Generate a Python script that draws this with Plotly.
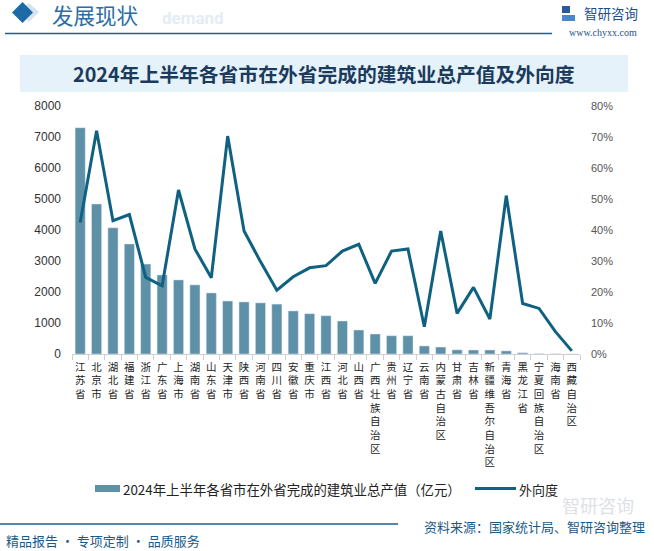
import plotly.graph_objects as go

categories = ["江苏省", "北京市", "湖北省", "福建省", "浙江省", "广东省", "上海市", "湖南省",
              "山东省", "天津市", "陕西省", "河南省", "四川省", "安徽省", "重庆市", "江西省",
              "河北省", "山西省", "广西壮族自治区", "贵州省", "辽宁省", "云南省", "内蒙古自治区",
              "甘肃省", "吉林省", "新疆维吾尔自治区", "青海省", "黑龙江省", "宁夏回族自治区",
              "海南省", "西藏自治区"]
output_value = [7300, 4840, 4070, 3550, 2900, 2550, 2390, 2230, 1970, 1710, 1680, 1650, 1610,
                1390, 1300, 1235, 1065, 775, 645, 590, 590, 260, 225, 135, 130, 130, 100, 40,
                12, 6, 2]
outward_ratio = [42.4, 72.0, 43.0, 45.0, 24.7, 22.0, 52.9, 33.9, 24.6, 70.3, 39.7, 29.8, 20.6,
                 24.9, 27.8, 28.5, 33.2, 35.4, 22.8, 33.2, 33.9, 8.8, 39.7, 13.1, 21.5, 11.3,
                 51.1, 16.3, 14.7, 7.2, 1.0]
left_ticks = [0, 1000, 2000, 3000, 4000, 5000, 6000, 7000, 8000]
right_ticks = [0, 0.1, 0.2, 0.3, 0.4, 0.5, 0.6, 0.7, 0.8]

W, H = 654, 551
L, R, T, B = 72, 74, 106, 197
PW, PH = W - L - R, H - T - B

def px(x):
    return (x - L) / PW

def py(y):
    return (H - B - y) / PH

FONT = "Noto Sans CJK SC"
BAR_C = "#5e90a8"
LINE_C = "#0f6182"
BLUE = "#1b5e93"

ticktext = ["<br>".join(list(c)) for c in categories]

fig = go.Figure()
fig.add_trace(go.Bar(x=categories, y=output_value, marker_color=BAR_C, name="2024年上半年各省市在外省完成的建筑业总产值（亿元）",
                     showlegend=False))
fig.add_trace(go.Scatter(x=categories, y=[v / 100 for v in outward_ratio], yaxis="y2", mode="lines",
                         line=dict(color=LINE_C, width=3), name="外向度", showlegend=False))

shapes = []
annos = []

# header
shapes.append(dict(type="path", xref="paper", yref="paper",
                   path=f"M {px(19)} {py(12)} L {px(29)} {py(3)} L {px(39)} {py(12)} L {px(29)} {py(22)} Z",
                   fillcolor="#d4e4f1", line=dict(width=0), layer="below"))
shapes.append(dict(type="path", xref="paper", yref="paper",
                   path=f"M {px(12)} {py(12.5)} L {px(22.5)} {py(2)} L {px(33)} {py(12.5)} L {px(22.5)} {py(23)} Z",
                   fillcolor="#1c6aa6", line=dict(width=0)))
annos.append(dict(text="<b>demand</b>", x=px(160), y=py(18), xref="paper", yref="paper", xanchor="left",
                  yanchor="middle", showarrow=False, font=dict(family="Roboto", size=17, color="#e4edf5")))
annos.append(dict(text="发展现状", x=px(50), y=py(14.5), xref="paper", yref="paper", xanchor="left",
                  yanchor="middle", showarrow=False, font=dict(family=FONT, size=21.5, color="#2b6ea6")))
shapes.append(dict(type="line", xref="paper", yref="paper", x0=px(5), x1=px(552), y0=py(33.5), y1=py(33.5),
                   line=dict(color=BLUE, width=1.5)))
# logo
shapes.append(dict(type="rect", xref="paper", yref="paper", x0=px(562), x1=px(570), y0=py(6), y1=py(13),
                   fillcolor="#2a5a9a", line=dict(width=0)))
shapes.append(dict(type="rect", xref="paper", yref="paper", x0=px(562), x1=px(575), y0=py(15), y1=py(21),
                   fillcolor="#4a86c8", line=dict(width=0)))
annos.append(dict(text="智研咨询", x=px(582), y=py(13.5), xref="paper", yref="paper", xanchor="left",
                  yanchor="middle", showarrow=False, font=dict(family=FONT, size=13.5, color="#1e4f8c")))
annos.append(dict(text="www.chyxx.com", x=px(639), y=py(33), xref="paper", yref="paper", xanchor="right",
                  yanchor="middle", showarrow=False, font=dict(family="Liberation Serif", size=10, color="#1e4f8c")))

# title box
shapes.append(dict(type="rect", xref="paper", yref="paper", x0=px(20), x1=px(628), y0=py(92), y1=py(55),
                   fillcolor="#e6f2fa", line=dict(width=0), layer="below"))
annos.append(dict(text="<b>2024年上半年各省市在外省完成的建筑业总产值及外向度</b>", x=px(324), y=py(74),
                  xref="paper", yref="paper", xanchor="center", yanchor="middle", showarrow=False,
                  font=dict(family=FONT, size=19.8, color="#1b3a5c")))

# legend (manual)
shapes.append(dict(type="rect", xref="paper", yref="paper", x0=px(95), x1=px(120), y0=py(492), y1=py(485),
                   fillcolor=BAR_C, line=dict(width=0)))
annos.append(dict(text="2024年上半年各省市在外省完成的建筑业总产值（亿元）", x=px(121), y=py(489), xref="paper",
                  yref="paper", xanchor="left", yanchor="middle", showarrow=False,
                  font=dict(family=FONT, size=13.4, color="#222")))
shapes.append(dict(type="line", xref="paper", yref="paper", x0=px(475), x1=px(516), y0=py(488.5), y1=py(488.5),
                   line=dict(color=LINE_C, width=3)))
annos.append(dict(text="外向度", x=px(517), y=py(489), xref="paper", yref="paper", xanchor="left",
                  yanchor="middle", showarrow=False, font=dict(family=FONT, size=13, color="#222")))

# watermark
annos.append(dict(text="智研咨询", x=px(636), y=py(505), xref="paper", yref="paper", xanchor="right",
                  yanchor="middle", showarrow=False, font=dict(family=FONT, size=18, color="#dde1e6")))

# footer
shapes.append(dict(type="line", xref="paper", yref="paper", x0=px(0), x1=px(398), y0=py(524), y1=py(524),
                   line=dict(color=BLUE, width=1.5)))
annos.append(dict(text="资料来源：国家统计局、智研咨询整理", x=px(647), y=py(526), xref="paper", yref="paper",
                  xanchor="right", yanchor="middle", showarrow=False,
                  font=dict(family=FONT, size=13, color="#1a5a8a")))
annos.append(dict(text="精品报告 · 专项定制 · 品质服务", x=px(4), y=py(540), xref="paper", yref="paper",
                  xanchor="left", yanchor="middle", showarrow=False,
                  font=dict(family=FONT, size=13, color="#1a5a8a")))

fig.update_layout(
    width=W, height=H,
    margin=dict(l=L, r=R, t=T, b=B, pad=0),
    paper_bgcolor="white", plot_bgcolor="white",
    bargap=0.38,
    showlegend=False,
    shapes=shapes, annotations=annos,
    xaxis=dict(tickmode="array", tickvals=categories, ticktext=ticktext,
               tickfont=dict(family=FONT, size=10.5, color="#222"),
               showline=True, linecolor="#cfcfcf", linewidth=1,
               ticks="outside", tickson="boundaries", ticklen=5, tickcolor="#cfcfcf",
               showgrid=False, tickangle=0, fixedrange=True, ticklabelstandoff=3),
    yaxis=dict(range=[0, 8000], tickvals=left_ticks, tickformat="d", showgrid=False, zeroline=False,
               showline=False, tickfont=dict(family="Liberation Sans", size=12, color="#333"), ticklabelstandoff=10),
    yaxis2=dict(range=[0, 0.8], tickvals=right_ticks, tickformat=".0%", overlaying="y", side="right",
                showgrid=False, zeroline=False, showline=False,
                tickfont=dict(family="Liberation Sans", size=11, color="#555"), ticklabelstandoff=10),
)

fig.write_html("out.html", config={"displayModeBar": False},
               post_script="document.body.style.margin='0';document.body.style.overflow='hidden';")
